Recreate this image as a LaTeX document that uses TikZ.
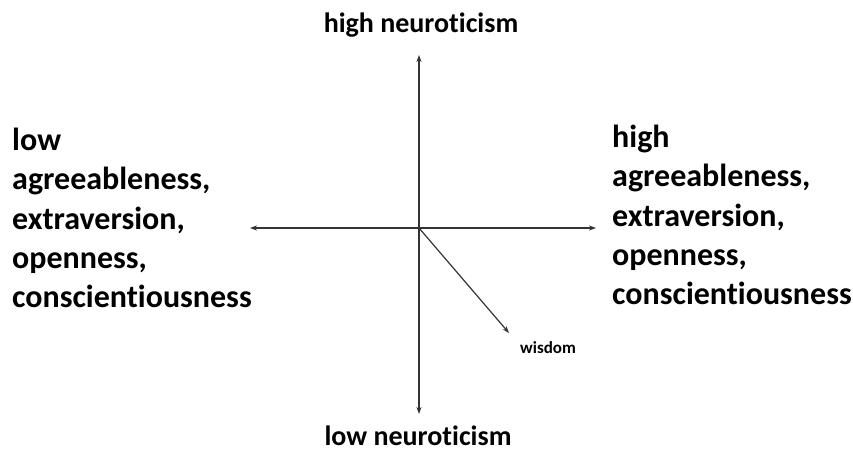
\documentclass[tikz,border=0pt]{standalone}
\usepackage{fontspec}
\setmainfont[Ligatures={NoCommon}]{Carlito}
\usetikzlibrary{arrows.meta}
\begin{document}
\begin{tikzpicture}[x=1pt,y=-1pt,
  axis/.style={draw=black!80, line width=1.2pt, -{Stealth[length=7pt,width=5pt]}},
  biglabel/.style={font=\bfseries\fontsize{32}{39.3}\selectfont, align=left, inner sep=0pt, anchor=north west},
  axlabel/.style={font=\bfseries\fontsize{28}{32}\selectfont, inner sep=0pt}
]
\useasboundingbox (0,0) rectangle (853,452);
\coordinate (o) at (419,228);
\coordinate (top) at (419,55);
\coordinate (bot) at (419,414);
\coordinate (lft) at (250,228);
\coordinate (rgt) at (596,228);
\coordinate (wtip) at (509,333);
\draw[axis] (o) -- (top);
\draw[axis] (o) -- (bot);
\draw[axis] (o) -- (lft);
\draw[axis] (o) -- (rgt);
\draw[axis] (o) -- (wtip);
\node[axlabel, anchor=base] (hn) at (421,33) {high neuroticism};
\node[axlabel, anchor=base] (ln) at (418,445) {low neuroticism};
\node[font=\bfseries\fontsize{17}{20}\selectfont, inner sep=0pt, anchor=west] (w) at (520,348) {wisdom};
\node[biglabel] (L) at (12,128) {low\\agreeableness,\\extraversion,\\openness,\\conscientiousness};
\node[biglabel] (R) at (612,125) {high\\agreeableness,\\extraversion,\\openness,\\conscientiousness};
\end{tikzpicture}
\end{document}
